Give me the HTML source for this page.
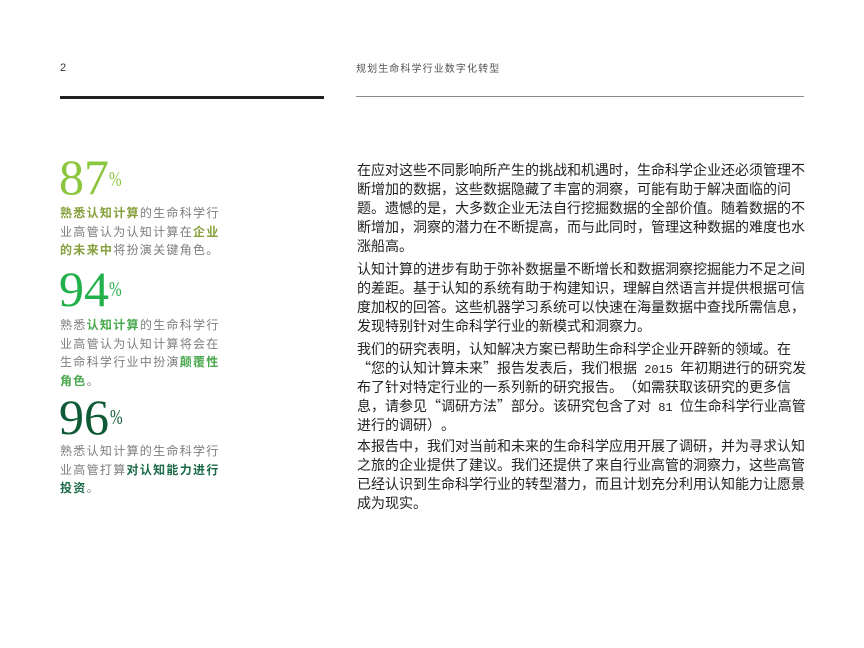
<!DOCTYPE html>
<html>
<head>
<meta charset="utf-8">
<style>
  html,body{margin:0;padding:0;background:#fff;}
  #pg{position:relative;width:864px;height:648px;overflow:hidden;background:#fff;text-spacing-trim:space-all;}
  .abs{position:absolute;white-space:nowrap;}
  .num{font-family:"Liberation Serif",serif;font-size:50px;line-height:50px;left:59px;}
  .pct{font-family:"Liberation Serif",serif;font-size:21px;line-height:21px;transform:scaleX(0.72);transform-origin:left top;}
  .lt{font-family:"Liberation Sans","Noto Sans CJK SC",sans-serif;font-size:12px;line-height:18.5px;letter-spacing:1.3px;color:#7d7d7d;left:60px;}
  .lt b{font-family:"Noto Sans CJK SC",sans-serif;font-weight:700;line-height:0;}
  .b1{color:#86a03c;}
  .b2{color:#4aa84e;}
  .b3{color:#1b6a47;}
  .p{font-family:"Liberation Sans","Noto Sans CJK SC",sans-serif;font-size:14px;line-height:19px;color:#222;left:357px;}
  .p span{line-height:0;}
  .q{font-family:"Noto Sans CJK SC",sans-serif;}
  .m{font-family:"Liberation Mono",monospace;font-size:12px;}
</style>
</head>
<body>
<div id="pg">
  <div class="abs" style="left:60px;top:63px;font-family:'Liberation Sans',sans-serif;font-size:11px;line-height:11px;color:#333;">2</div>
  <div class="abs" style="left:356px;top:65px;font-family:'Liberation Sans','Noto Sans CJK SC',sans-serif;font-size:10px;line-height:10px;letter-spacing:1.1px;color:#555;">规划生命科学行业数字化转型</div>

  <div class="abs" style="left:60px;top:96px;width:264px;height:3px;background:#231f20;"></div>
  <div class="abs" style="left:356px;top:96px;width:448px;height:1px;background:#8a8a8a;"></div>

  <!-- 87% -->
  <div class="abs num" style="top:152px;color:#8cc63f;">87</div>
  <div class="abs pct" style="left:109px;top:169px;color:#8cc63f;">%</div>
  <div class="abs lt" style="top:204px;"><b class="b1">熟悉认知计算</b>的生命科学行<br>业高管认为认知计算在<b class="b1">企业</b><br><b class="b1">的未来中</b>将扮演关键角色。</div>

  <!-- 94% -->
  <div class="abs num" style="top:264px;color:#22b04b;">94</div>
  <div class="abs pct" style="left:109px;top:279px;color:#22b04b;">%</div>
  <div class="abs lt" style="top:316px;">熟悉<b class="b2">认知计算</b>的生命科学行<br>业高管认为认知计算将会在<br>生命科学行业中扮演<b class="b2">颠覆性</b><br><b class="b2">角色</b>。</div>

  <!-- 96% -->
  <div class="abs num" style="top:392px;color:#0d5a35;">96</div>
  <div class="abs pct" style="left:110px;top:407px;color:#0d5a35;">%</div>
  <div class="abs lt" style="top:442px;">熟悉认知计算的生命科学行<br>业高管打算<b class="b3">对认知能力进行</b><br><b class="b3">投资</b>。</div>

  <!-- Right column -->
  <div class="abs p" style="top:161px;">在应对这些不同影响所产生的挑战和机遇时，生命科学企业还必须管理不<br>断增加的数据，这些数据隐藏了丰富的洞察，可能有助于解决面临的问<br>题。遗憾的是，大多数企业无法自行挖掘数据的全部价值。随着数据的不<br>断增加，洞察的潜力在不断提高，而与此同时，管理这种数据的难度也水<br>涨船高。</div>

  <div class="abs p" style="top:260px;">认知计算的进步有助于弥补数据量不断增长和数据洞察挖掘能力不足之间<br>的差距。基于认知的系统有助于构建知识，理解自然语言并提供根据可信<br>度加权的回答。这些机器学习系统可以快速在海量数据中查找所需信息，<br>发现特别针对生命科学行业的新模式和洞察力。</div>

  <div class="abs p" style="top:339.5px;">我们的研究表明，认知解决方案已帮助生命科学企业开辟新的领域。在<br><span class="q">“</span>您的认知计算未来<span class="q">”</span>报告发表后，我们根据<span class="m"> 2015 </span>年初期进行的研究发<br>布了针对特定行业的一系列新的研究报告。（如需获取该研究的更多信<br>息，请参见<span class="q">“</span>调研方法<span class="q">”</span>部分。该研究包含了对<span class="m"> 81 </span>位生命科学行业高管<br>进行的调研）。</div>

  <div class="abs p" style="top:437px;">本报告中，我们对当前和未来的生命科学应用开展了调研，并为寻求认知<br>之旅的企业提供了建议。我们还提供了来自行业高管的洞察力，这些高管<br>已经认识到生命科学行业的转型潜力，而且计划充分利用认知能力让愿景<br>成为现实。</div>
</div>
</body>
</html>
